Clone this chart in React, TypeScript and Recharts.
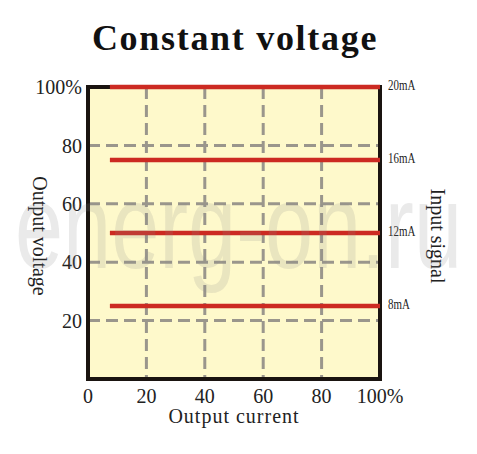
import React from 'react';
import { LineChart, Line, XAxis, YAxis, CartesianGrid, ReferenceArea } from 'recharts';

const currentTicks = [0, 20, 40, 60, 80, 100];
const voltageTicks = [20, 40, 60, 80, 100];
const voltageLevels = [100, 75, 50, 25];
const signalLabels = ['20mA', '16mA', '12mA', '8mA'];
const lineStart = 7.5;
const lineEnd = 100;

const W = 477;
const H = 454;
const SERIF = '"Liberation Serif", "Times New Roman", serif';
const RED = '#cc2a22';

const pct = (v: number) => (v === 100 ? '100%' : String(v));

// mA label drawn just right of the line's end point
const signalLabel = (text: string) => (props: any) => {
  const { x, y, index } = props;
  if (index !== 1) return null;
  const tx = x + 8;
  const ty = y - 1;
  return (
    <text
      x={tx}
      y={ty}
      dy={4}
      transform={`translate(${tx} ${ty}) scale(0.78 1) translate(${-tx} ${-ty})`}
      fontFamily={SERIF}
      fontSize={14}
      fill="#222"
    >
      {text}
    </text>
  );
};

const SideTitle = ({ viewBox, value, dx }: any) => {
  const cx = viewBox.x + dx;
  const cy = 236;
  return (
    <text
      x={cx}
      y={cy}
      transform={`rotate(90 ${cx} ${cy})`}
      textAnchor="middle"
      dominantBaseline="central"
      fontFamily={SERIF}
      fontSize={20}
      fill="#222"
    >
      {value}
    </text>
  );
};

export default function App() {
  return (
    <div style={{ position: 'absolute', left: 0, top: 0, width: W, height: H, background: '#fff' }}>
      <LineChart width={W} height={H} margin={{ top: 87, right: 0, bottom: 0, left: 0 }}>
        <CartesianGrid
          yAxisId="left"
          fill="#fef9cb"
          stroke="#9a968c"
          strokeWidth={3}
          strokeDasharray="12 6"
          horizontalValues={voltageTicks}
          verticalValues={currentTicks}
        />
        <XAxis
          type="number"
          dataKey="x"
          domain={[0, 100]}
          ticks={currentTicks}
          tickFormatter={pct}
          allowDataOverflow
          height={75}
          axisLine={false}
          tickLine={false}
          tickSize={0}
          tickMargin={10}
          tick={{ fontFamily: SERIF, fontSize: 20, fill: '#222' }}
          label={{
            value: 'Output current',
            position: 'insideTop',
            offset: 30,
            style: { fontFamily: SERIF, fontSize: 20, fill: '#222', letterSpacing: 1 },
          }}
        />
        <YAxis
          yAxisId="left"
          type="number"
          domain={[0, 100]}
          ticks={voltageTicks}
          tickFormatter={pct}
          width={88}
          axisLine={false}
          tickLine={false}
          tickSize={0}
          tickMargin={6}
          tick={{ fontFamily: SERIF, fontSize: 20, fill: '#222' }}
          label={{ value: 'Output voltage', content: (p: any) => <SideTitle {...p} value="Output voltage" dx={40} /> }}
        />
        <YAxis
          yAxisId="right"
          orientation="right"
          type="number"
          domain={[0, 100]}
          width={97}
          axisLine={false}
          tickLine={false}
          tick={false}
          label={{ value: 'Input signal', content: (p: any) => <SideTitle {...p} value="Input signal" dx={58} /> }}
        />
        <ReferenceArea
          yAxisId="left"
          x1={0}
          x2={100}
          y1={0}
          y2={100}
          fill="none"
          stroke="#1a1410"
          strokeWidth={4}
          ifOverflow="visible"
        />
        {voltageLevels.map((v, i) => (
          <Line
            key={signalLabels[i]}
            yAxisId="left"
            data={[{ x: lineStart, y: v }, { x: lineEnd, y: v }]}
            dataKey="y"
            stroke={RED}
            strokeWidth={4.5}
            dot={false}
            activeDot={false}
            label={signalLabel(signalLabels[i])}
            isAnimationActive={false}
          />
        ))}
      </LineChart>
      <svg width={W} height={H} style={{ position: 'absolute', left: 0, top: 0, pointerEvents: 'none' }}>
        <text
          x={235}
          y={50}
          textAnchor="middle"
          fontFamily={SERIF}
          fontWeight="bold"
          fontSize={36}
          letterSpacing={1.7}
          fill="#111"
        >
          Constant voltage
        </text>
        <text
          x={15}
          y={268}
          textLength={447}
          lengthAdjust="spacingAndGlyphs"
          fontFamily='"Liberation Sans", Arial, sans-serif'
          fontSize={120}
          fill="#8a8a8a"
          fillOpacity={0.18}
        >
          energ-on.ru
        </text>
      </svg>
    </div>
  );
}
